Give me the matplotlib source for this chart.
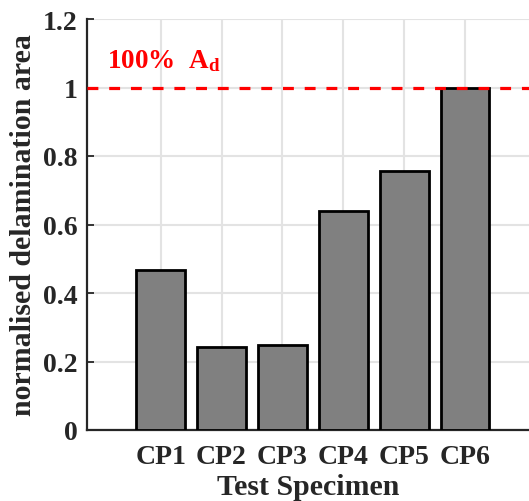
import numpy as np
import matplotlib.pyplot as plt
from matplotlib.ticker import FuncFormatter

# valores
specimens = ['CP1', 'CP2', 'CP3', 'CP4', 'CP5', 'CP6']
delam_area = [0.467, 0.243, 0.249, 0.638, 0.755, 1.0]
ref_level = 1.0
y_ticks = [0, 0.2, 0.4, 0.6, 0.8, 1.0, 1.2]

plt.rcParams['font.family'] = ['Liberation Serif', 'DejaVu Serif']
plt.rcParams['font.weight'] = 'bold'
plt.rcParams['mathtext.fontset'] = 'custom'
plt.rcParams['mathtext.rm'] = 'Liberation Serif:bold'
plt.rcParams['mathtext.bf'] = 'Liberation Serif:bold'
plt.rcParams['mathtext.it'] = 'Liberation Serif:bold'

TXT = '#262626'

fig = plt.figure(figsize=(5.29, 5.02), dpi=100)
ax = fig.add_axes([87/529, 71/502, 1 - 87/529, 411/502])

x = np.arange(1, len(specimens) + 1)
ax.bar(x, delam_area, width=0.8, color='#808080', edgecolor='black',
       linewidth=2.0, zorder=3)
ax.axhline(ref_level, color='red', linewidth=2.3, dashes=[3.4, 3.4], zorder=4)
ax.text(0.12, 1.061, r'100%  A$_\mathrm{d}$', color='red', fontsize=19.5,
        fontweight='bold', zorder=5)

ax.set_xlim(-0.21, 7.05)
ax.set_ylim(0, 1.2)
ax.set_xticks(x)
ax.set_xticklabels(specimens)
ax.set_yticks(y_ticks)
ax.yaxis.set_major_formatter(FuncFormatter(lambda v, p: '%g' % v))

ax.grid(True, color='#e3e3e3', linewidth=1.5, zorder=0)
ax.set_axisbelow(True)
for s in ['top', 'right']:
    ax.spines[s].set_visible(False)
for s in ['left', 'bottom']:
    ax.spines[s].set_linewidth(1.6)
    ax.spines[s].set_color(TXT)
ax.tick_params(direction='in', length=5, width=1.3, colors=TXT,
               labelsize=20)
ax.tick_params(axis='x', pad=10)
ax.tick_params(axis='y', pad=7)

ax.set_xlabel('Test Specimen', fontsize=21.5, fontweight='bold', color=TXT,
              labelpad=3)
ax.set_ylabel('normalised delamination area', fontsize=21.5, fontweight='bold',
              color=TXT, labelpad=4)

fig.savefig('out.png', dpi=100)
